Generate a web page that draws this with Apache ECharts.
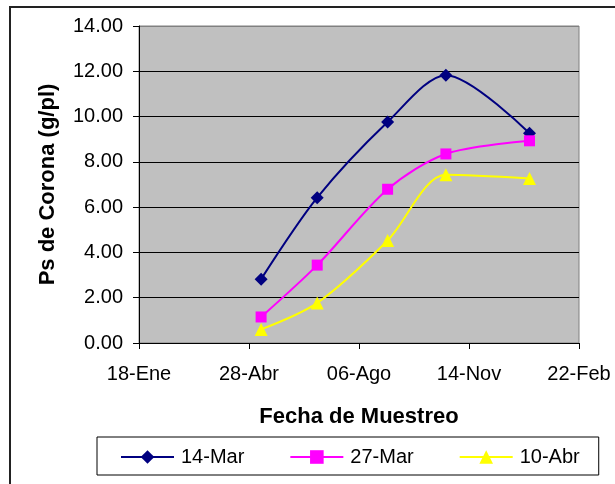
<!DOCTYPE html>
<html>
<head>
<meta charset="utf-8">
<script src="https://cdn.jsdelivr.net/npm/echarts@6/dist/echarts.min.js"></script>
<style>
  html, body { margin: 0; padding: 0; background: #fff; }
  #chart { width: 615px; height: 484px; }
</style>
</head>
<body>
<div id="chart"></div>
<script>
// Sampling dates (one season, crossing into the following January)
const axisStart = '2007-01-18';
const sampleDates = ['2007-05-09', '2007-06-29', '2007-09-01', '2007-10-24', '2008-01-08'];

// Crown dry weight (g/plant) for each planting date
const seriesNames = ['14-Mar', '27-Mar', '10-Abr'];
const mar14 = [2.82, 6.42, 9.76, 11.83, 9.26];
const mar27 = [1.15, 3.44, 6.79, 8.35, 8.93];
const abr10 = [0.60, 1.77, 4.53, 7.43, 7.27];

// X axis tick labels, every 100 days from the axis start
const xTickLabels = ['18-Ene', '28-Abr', '06-Ago', '14-Nov', '22-Feb'];

const DAY = 86400000;
const dayOffset = d => Math.round((Date.parse(d) - Date.parse(axisStart)) / DAY);
const xDays = sampleDates.map(dayOffset);
const pairs = vals => xDays.map((x, i) => [x, vals[i]]);

const FONT = '"Liberation Sans", Arial, sans-serif';

function lineSeries(name, vals, color, symbol, size) {
  return {
    name: name,
    type: 'line',
    data: pairs(vals),
    smooth: 0.3,
    symbol: symbol,
    symbolSize: size,
    showSymbol: true,
    lineStyle: { color: color, width: 2 },
    itemStyle: { color: color },
    emphasis: { disabled: true },
    z: 3
  };
}

const chart = echarts.init(document.getElementById('chart'), null, { renderer: 'canvas' });
chart.setOption({
  animation: false,
  backgroundColor: '#ffffff',
  textStyle: { fontFamily: FONT },
  graphic: [{
    type: 'rect',
    shape: { x: 10, y: 7, width: 700, height: 600 },
    style: { fill: 'none', stroke: '#222', lineWidth: 2 },
    silent: true,
    z: -1
  }],
  grid: {
    left: 139, right: 36, top: 26, bottom: 141,
    show: true,
    backgroundColor: '#c0c0c0',
    borderColor: '#808080',
    borderWidth: 1
  },
  legend: {
    left: 97, top: 437,
    padding: [10, 19, 8, 23],
    borderColor: '#000', borderWidth: 1,
    itemGap: 45,
    itemWidth: 53, itemHeight: 17,
    textStyle: { fontSize: 20, color: '#000', fontFamily: FONT, padding: [0, 0, 0, 2] },
    data: seriesNames
  },
  xAxis: {
    type: 'value',
    min: 0, max: 400, interval: 100,
    name: 'Fecha de Muestreo',
    nameLocation: 'middle',
    nameGap: 63,
    nameTextStyle: { fontSize: 22, fontWeight: 'bold', color: '#000', fontFamily: FONT },
    axisLine: { show: true, onZero: false, lineStyle: { color: '#000', width: 1 } },
    axisTick: { show: true, length: 6, lineStyle: { color: '#000' } },
    axisLabel: {
      fontSize: 20, color: '#000', margin: 21,
      formatter: v => xTickLabels[Math.round(v / 100)] || ''
    },
    splitLine: { show: false }
  },
  yAxis: {
    type: 'value',
    min: 0, max: 14, interval: 2,
    name: 'Ps de Corona (g/pl)',
    nameLocation: 'middle',
    nameGap: 80,
    nameRotate: 90,
    nameTextStyle: { fontSize: 22, fontWeight: 'bold', color: '#000', fontFamily: FONT },
    axisLine: { show: true, lineStyle: { color: '#000', width: 1 } },
    axisTick: { show: true, length: 6, lineStyle: { color: '#000' } },
    axisLabel: {
      fontSize: 20, color: '#000', margin: 16,
      formatter: v => v.toFixed(2)
    },
    splitLine: {
      show: true,
      lineStyle: { color: ['#000', '#000', '#000', '#000', '#000', '#000', '#000', '#808080'], width: 1 }
    }
  },
  series: [
    lineSeries(seriesNames[0], mar14, '#000080', 'diamond', 13),
    lineSeries(seriesNames[1], mar27, '#ff00ff', 'rect', 11),
    lineSeries(seriesNames[2], abr10, '#ffff00', 'triangle', 13)
  ]
});
</script>
</body>
</html>
